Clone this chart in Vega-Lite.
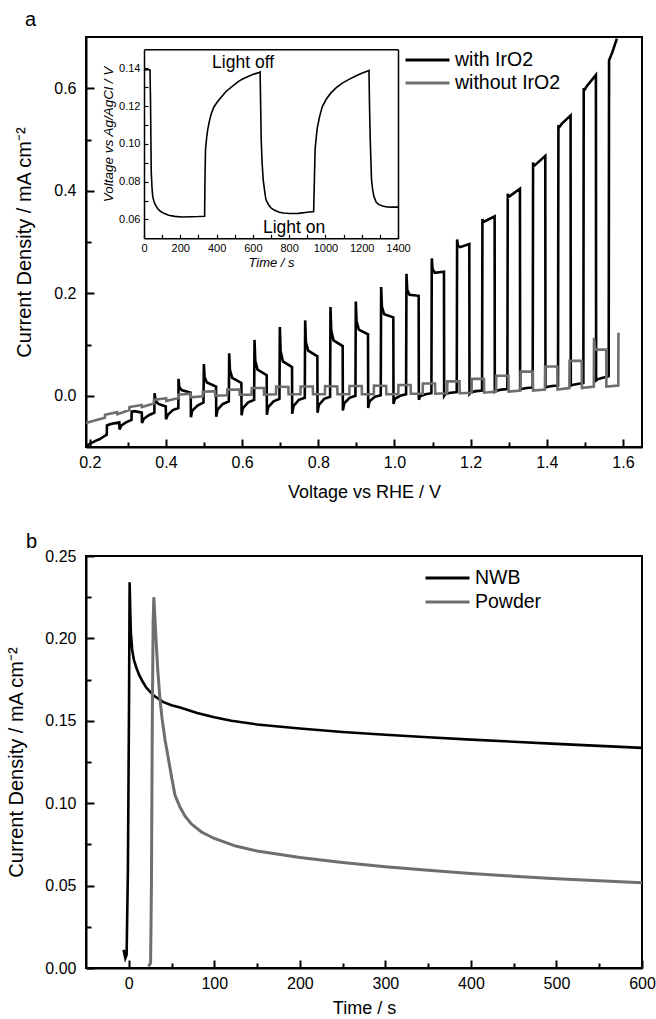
{
 "$schema": "https://vega.github.io/schema/vega-lite/v6.json",
 "background": "white",
 "padding": {"left": 5, "top": 9, "right": 10, "bottom": 2},
 "bounds": "flush",
 "spacing": 109,
 "config": {
  "font": "Liberation Sans",
  "view": {"stroke": "#000", "strokeWidth": 2},
  "axis": {"grid": false, "domainColor": "#000", "domainWidth": 2, "tickColor": "#000", "tickWidth": 2, "labelColor": "#000", "titleColor": "#000", "labelFont": "Liberation Sans", "titleFont": "Liberation Sans", "titleFontWeight": "normal", "labelFlush": false, "labelOverlap": false},
  "legend": {"labelFont": "Liberation Sans", "labelColor": "#000"},
  "title": {"font": "Liberation Sans", "color": "#000", "fontWeight": "normal"}
 },
 "resolve": {"scale": {"color": "independent"}},
 "datasets": {
  "black": [
   {"v":0.190,"j":-0.098,"s":"with IrO2"},{"v":0.205,"j":-0.092,"s":"with IrO2"},{"v":0.215,"j":-0.088,"s":"with IrO2"},{"v":0.225,"j":-0.085,"s":"with IrO2"},{"v":0.236,"j":-0.080,"s":"with IrO2"},{"v":0.2445,"j":-0.076,"s":"with IrO2"},
   {"v":0.245,"j":-0.058,"s":"with IrO2"},{"v":0.255,"j":-0.055,"s":"with IrO2"},{"v":0.2775,"j":-0.052,"s":"with IrO2"},
   {"v":0.278,"j":-0.066,"s":"with IrO2"},{"v":0.283,"j":-0.058,"s":"with IrO2"},{"v":0.295,"j":-0.052,"s":"with IrO2"},{"v":0.3095,"j":-0.047,"s":"with IrO2"},
   {"v":0.310,"j":-0.031,"s":"with IrO2"},{"v":0.318,"j":-0.030,"s":"with IrO2"},{"v":0.3365,"j":-0.033,"s":"with IrO2"},
   {"v":0.337,"j":-0.053,"s":"with IrO2"},{"v":0.342,"j":-0.045,"s":"with IrO2"},{"v":0.355,"j":-0.038,"s":"with IrO2"},{"v":0.3695,"j":-0.033,"s":"with IrO2"},
   {"v":0.370,"j":0.005,"s":"with IrO2"},{"v":0.373,"j":-0.010,"s":"with IrO2"},{"v":0.380,"j":-0.016,"s":"with IrO2"},{"v":0.3995,"j":-0.021,"s":"with IrO2"},
   {"v":0.400,"j":-0.046,"s":"with IrO2"},{"v":0.405,"j":-0.037,"s":"with IrO2"},{"v":0.418,"j":-0.028,"s":"with IrO2"},{"v":0.4325,"j":-0.024,"s":"with IrO2"},
   {"v":0.433,"j":0.033,"s":"with IrO2"},{"v":0.435,"j":0.017,"s":"with IrO2"},{"v":0.441,"j":0.011,"s":"with IrO2"},{"v":0.465,"j":0.006,"s":"with IrO2"},{"v":0.4655,"j":-0.042,"s":"with IrO2"},{"v":0.469,"j":-0.029,"s":"with IrO2"},{"v":0.483,"j":-0.019,"s":"with IrO2"},{"v":0.4985,"j":-0.013,"s":"with IrO2"},
   {"v":0.4995,"j":0.062,"s":"with IrO2"},{"v":0.5015,"j":0.036,"s":"with IrO2"},{"v":0.5075,"j":0.026,"s":"with IrO2"},{"v":0.5315,"j":0.018,"s":"with IrO2"},{"v":0.532,"j":-0.041,"s":"with IrO2"},{"v":0.5355,"j":-0.027,"s":"with IrO2"},{"v":0.5495,"j":-0.016,"s":"with IrO2"},{"v":0.565,"j":-0.011,"s":"with IrO2"},
   {"v":0.566,"j":0.083,"s":"with IrO2"},{"v":0.568,"j":0.050,"s":"with IrO2"},{"v":0.574,"j":0.035,"s":"with IrO2"},{"v":0.598,"j":0.025,"s":"with IrO2"},{"v":0.5985,"j":-0.038,"s":"with IrO2"},{"v":0.602,"j":-0.024,"s":"with IrO2"},{"v":0.616,"j":-0.013,"s":"with IrO2"},{"v":0.6315,"j":-0.008,"s":"with IrO2"},
   {"v":0.6325,"j":0.109,"s":"with IrO2"},{"v":0.6345,"j":0.068,"s":"with IrO2"},{"v":0.6405,"j":0.051,"s":"with IrO2"},{"v":0.6645,"j":0.040,"s":"with IrO2"},{"v":0.665,"j":-0.037,"s":"with IrO2"},{"v":0.6685,"j":-0.022,"s":"with IrO2"},{"v":0.6825,"j":-0.011,"s":"with IrO2"},{"v":0.698,"j":-0.006,"s":"with IrO2"},
   {"v":0.699,"j":0.134,"s":"with IrO2"},{"v":0.701,"j":0.088,"s":"with IrO2"},{"v":0.707,"j":0.067,"s":"with IrO2"},{"v":0.731,"j":0.056,"s":"with IrO2"},{"v":0.7315,"j":-0.035,"s":"with IrO2"},{"v":0.735,"j":-0.020,"s":"with IrO2"},{"v":0.749,"j":-0.008,"s":"with IrO2"},{"v":0.7645,"j":-0.004,"s":"with IrO2"},
   {"v":0.7655,"j":0.147,"s":"with IrO2"},{"v":0.7675,"j":0.104,"s":"with IrO2"},{"v":0.7735,"j":0.088,"s":"with IrO2"},{"v":0.7975,"j":0.077,"s":"with IrO2"},{"v":0.798,"j":-0.033,"s":"with IrO2"},{"v":0.8015,"j":-0.018,"s":"with IrO2"},{"v":0.8155,"j":-0.006,"s":"with IrO2"},{"v":0.831,"j":-0.002,"s":"with IrO2"},
   {"v":0.832,"j":0.173,"s":"with IrO2"},{"v":0.834,"j":0.127,"s":"with IrO2"},{"v":0.840,"j":0.108,"s":"with IrO2"},{"v":0.864,"j":0.097,"s":"with IrO2"},{"v":0.8645,"j":-0.029,"s":"with IrO2"},{"v":0.868,"j":-0.015,"s":"with IrO2"},{"v":0.882,"j":-0.004,"s":"with IrO2"},{"v":0.8975,"j":0.000,"s":"with IrO2"},
   {"v":0.8985,"j":0.184,"s":"with IrO2"},{"v":0.9005,"j":0.145,"s":"with IrO2"},{"v":0.9065,"j":0.129,"s":"with IrO2"},{"v":0.9305,"j":0.120,"s":"with IrO2"},{"v":0.931,"j":-0.024,"s":"with IrO2"},{"v":0.9345,"j":-0.011,"s":"with IrO2"},{"v":0.9485,"j":-0.002,"s":"with IrO2"},{"v":0.964,"j":0.001,"s":"with IrO2"},
   {"v":0.965,"j":0.212,"s":"with IrO2"},{"v":0.967,"j":0.174,"s":"with IrO2"},{"v":0.973,"j":0.159,"s":"with IrO2"},{"v":0.997,"j":0.153,"s":"with IrO2"},{"v":0.9975,"j":-0.016,"s":"with IrO2"},{"v":1.001,"j":-0.006,"s":"with IrO2"},{"v":1.015,"j":0.000,"s":"with IrO2"},{"v":1.0305,"j":0.003,"s":"with IrO2"},
   {"v":1.0315,"j":0.238,"s":"with IrO2"},{"v":1.0335,"j":0.207,"s":"with IrO2"},{"v":1.0395,"j":0.197,"s":"with IrO2"},{"v":1.0635,"j":0.195,"s":"with IrO2"},{"v":1.064,"j":-0.008,"s":"with IrO2"},{"v":1.0675,"j":-0.001,"s":"with IrO2"},{"v":1.0815,"j":0.003,"s":"with IrO2"},{"v":1.097,"j":0.005,"s":"with IrO2"},
   {"v":1.098,"j":0.268,"s":"with IrO2"},{"v":1.100,"j":0.247,"s":"with IrO2"},{"v":1.106,"j":0.240,"s":"with IrO2"},{"v":1.130,"j":0.242,"s":"with IrO2"},{"v":1.1305,"j":0.000,"s":"with IrO2"},{"v":1.134,"j":0.004,"s":"with IrO2"},{"v":1.148,"j":0.006,"s":"with IrO2"},{"v":1.1635,"j":0.007,"s":"with IrO2"},
   {"v":1.1645,"j":0.305,"s":"with IrO2"},{"v":1.1665,"j":0.293,"s":"with IrO2"},{"v":1.1725,"j":0.290,"s":"with IrO2"},{"v":1.1965,"j":0.296,"s":"with IrO2"},{"v":1.197,"j":0.004,"s":"with IrO2"},{"v":1.2005,"j":0.007,"s":"with IrO2"},{"v":1.2145,"j":0.009,"s":"with IrO2"},{"v":1.230,"j":0.010,"s":"with IrO2"},
   {"v":1.231,"j":0.345,"s":"with IrO2"},{"v":1.233,"j":0.339,"s":"with IrO2"},{"v":1.239,"j":0.341,"s":"with IrO2"},{"v":1.263,"j":0.350,"s":"with IrO2"},{"v":1.2635,"j":0.008,"s":"with IrO2"},{"v":1.267,"j":0.010,"s":"with IrO2"},{"v":1.281,"j":0.012,"s":"with IrO2"},{"v":1.2965,"j":0.013,"s":"with IrO2"},
   {"v":1.2975,"j":0.394,"s":"with IrO2"},{"v":1.2995,"j":0.388,"s":"with IrO2"},{"v":1.3055,"j":0.391,"s":"with IrO2"},{"v":1.3295,"j":0.404,"s":"with IrO2"},{"v":1.330,"j":0.012,"s":"with IrO2"},{"v":1.3335,"j":0.013,"s":"with IrO2"},{"v":1.3475,"j":0.015,"s":"with IrO2"},{"v":1.363,"j":0.016,"s":"with IrO2"},
   {"v":1.364,"j":0.455,"s":"with IrO2"},{"v":1.366,"j":0.448,"s":"with IrO2"},{"v":1.372,"j":0.452,"s":"with IrO2"},{"v":1.396,"j":0.468,"s":"with IrO2"},{"v":1.3965,"j":0.016,"s":"with IrO2"},{"v":1.400,"j":0.017,"s":"with IrO2"},{"v":1.414,"j":0.019,"s":"with IrO2"},{"v":1.4295,"j":0.020,"s":"with IrO2"},
   {"v":1.4305,"j":0.528,"s":"with IrO2"},{"v":1.4325,"j":0.524,"s":"with IrO2"},{"v":1.4385,"j":0.530,"s":"with IrO2"},{"v":1.4625,"j":0.547,"s":"with IrO2"},{"v":1.463,"j":0.020,"s":"with IrO2"},{"v":1.4665,"j":0.021,"s":"with IrO2"},{"v":1.4805,"j":0.023,"s":"with IrO2"},{"v":1.496,"j":0.025,"s":"with IrO2"},
   {"v":1.497,"j":0.600,"s":"with IrO2"},{"v":1.499,"j":0.597,"s":"with IrO2"},{"v":1.505,"j":0.604,"s":"with IrO2"},{"v":1.529,"j":0.626,"s":"with IrO2"},{"v":1.5295,"j":0.030,"s":"with IrO2"},{"v":1.533,"j":0.032,"s":"with IrO2"},{"v":1.547,"j":0.035,"s":"with IrO2"},{"v":1.5625,"j":0.038,"s":"with IrO2"},
   {"v":1.5635,"j":0.655,"s":"with IrO2"},{"v":1.5655,"j":0.658,"s":"with IrO2"},{"v":1.572,"j":0.670,"s":"with IrO2"},{"v":1.584,"j":0.697,"s":"with IrO2"}
  ],
  "gray": [
   {"v":0.190,"j":-0.053,"s":"without IrO2"},{"v":0.215,"j":-0.048,"s":"without IrO2"},{"v":0.2395,"j":-0.043,"s":"without IrO2"},
   {"v":0.240,"j":-0.037,"s":"without IrO2"},{"v":0.272,"j":-0.032,"s":"without IrO2"},{"v":0.2725,"j":-0.036,"s":"without IrO2"},{"v":0.3037,"j":-0.028,"s":"without IrO2"},
   {"v":0.3042,"j":-0.022,"s":"without IrO2"},{"v":0.3362,"j":-0.018,"s":"without IrO2"},{"v":0.3367,"j":-0.022,"s":"without IrO2"},{"v":0.3679,"j":-0.015,"s":"without IrO2"},
   {"v":0.3684,"j":-0.008,"s":"without IrO2"},{"v":0.4004,"j":-0.005,"s":"without IrO2"},{"v":0.4009,"j":-0.010,"s":"without IrO2"},{"v":0.4321,"j":-0.005,"s":"without IrO2"},
   {"v":0.4326,"j":0.002,"s":"without IrO2"},{"v":0.4646,"j":0.004,"s":"without IrO2"},{"v":0.4651,"j":-0.003,"s":"without IrO2"},{"v":0.4963,"j":-0.001,"s":"without IrO2"},
   {"v":0.4968,"j":0.008,"s":"without IrO2"},{"v":0.5288,"j":0.009,"s":"without IrO2"},{"v":0.5293,"j":0.000,"s":"without IrO2"},{"v":0.5605,"j":0.001,"s":"without IrO2"},
   {"v":0.5610,"j":0.012,"s":"without IrO2"},{"v":0.5930,"j":0.012,"s":"without IrO2"},{"v":0.5935,"j":0.002,"s":"without IrO2"},{"v":0.6247,"j":0.002,"s":"without IrO2"},
   {"v":0.6252,"j":0.015,"s":"without IrO2"},{"v":0.6572,"j":0.015,"s":"without IrO2"},{"v":0.6577,"j":0.002,"s":"without IrO2"},{"v":0.6889,"j":0.003,"s":"without IrO2"},
   {"v":0.6894,"j":0.018,"s":"without IrO2"},{"v":0.7214,"j":0.017,"s":"without IrO2"},{"v":0.7219,"j":0.003,"s":"without IrO2"},{"v":0.7531,"j":0.003,"s":"without IrO2"},
   {"v":0.7536,"j":0.018,"s":"without IrO2"},{"v":0.7856,"j":0.018,"s":"without IrO2"},{"v":0.7861,"j":0.003,"s":"without IrO2"},{"v":0.8173,"j":0.003,"s":"without IrO2"},
   {"v":0.8178,"j":0.019,"s":"without IrO2"},{"v":0.8498,"j":0.018,"s":"without IrO2"},{"v":0.8503,"j":0.003,"s":"without IrO2"},{"v":0.8815,"j":0.003,"s":"without IrO2"},
   {"v":0.8820,"j":0.019,"s":"without IrO2"},{"v":0.9140,"j":0.019,"s":"without IrO2"},{"v":0.9145,"j":0.003,"s":"without IrO2"},{"v":0.9457,"j":0.003,"s":"without IrO2"},
   {"v":0.9462,"j":0.020,"s":"without IrO2"},{"v":0.9782,"j":0.019,"s":"without IrO2"},{"v":0.9787,"j":0.003,"s":"without IrO2"},{"v":1.0099,"j":0.003,"s":"without IrO2"},
   {"v":1.0104,"j":0.021,"s":"without IrO2"},{"v":1.0424,"j":0.021,"s":"without IrO2"},{"v":1.0429,"j":0.004,"s":"without IrO2"},{"v":1.0741,"j":0.004,"s":"without IrO2"},
   {"v":1.0746,"j":0.024,"s":"without IrO2"},{"v":1.1066,"j":0.024,"s":"without IrO2"},{"v":1.1071,"j":0.004,"s":"without IrO2"},{"v":1.1383,"j":0.005,"s":"without IrO2"},
   {"v":1.1388,"j":0.028,"s":"without IrO2"},{"v":1.1708,"j":0.028,"s":"without IrO2"},{"v":1.1713,"j":0.005,"s":"without IrO2"},{"v":1.2025,"j":0.006,"s":"without IrO2"},
   {"v":1.2030,"j":0.033,"s":"without IrO2"},{"v":1.2350,"j":0.033,"s":"without IrO2"},{"v":1.2355,"j":0.006,"s":"without IrO2"},{"v":1.2667,"j":0.008,"s":"without IrO2"},
   {"v":1.2672,"j":0.039,"s":"without IrO2"},{"v":1.2992,"j":0.039,"s":"without IrO2"},{"v":1.2997,"j":0.008,"s":"without IrO2"},{"v":1.3309,"j":0.010,"s":"without IrO2"},
   {"v":1.3314,"j":0.047,"s":"without IrO2"},{"v":1.3634,"j":0.047,"s":"without IrO2"},{"v":1.3639,"j":0.010,"s":"without IrO2"},{"v":1.3951,"j":0.012,"s":"without IrO2"},
   {"v":1.3956,"j":0.057,"s":"without IrO2"},{"v":1.4276,"j":0.057,"s":"without IrO2"},{"v":1.4281,"j":0.012,"s":"without IrO2"},{"v":1.4593,"j":0.015,"s":"without IrO2"},
   {"v":1.4598,"j":0.068,"s":"without IrO2"},{"v":1.4918,"j":0.068,"s":"without IrO2"},{"v":1.4923,"j":0.015,"s":"without IrO2"},{"v":1.5235,"j":0.018,"s":"without IrO2"},
   {"v":1.5240,"j":0.113,"s":"without IrO2"},{"v":1.5270,"j":0.090,"s":"without IrO2"},{"v":1.5560,"j":0.090,"s":"without IrO2"},{"v":1.5565,"j":0.018,"s":"without IrO2"},{"v":1.5877,"j":0.020,"s":"without IrO2"},
   {"v":1.5882,"j":0.123,"s":"without IrO2"}
  ],
  "inset": [
   {"t":0,"v":0.1385},{"t":10,"v":0.1392},{"t":20,"v":0.1393},{"t":33,"v":0.1391},{"t":36,"v":0.122},{"t":38,"v":0.102},{"t":40,"v":0.085},{"t":44,"v":0.077},{"t":48,"v":0.0722},{"t":55,"v":0.0695},{"t":62,"v":0.0678},{"t":75,"v":0.0658},{"t":90,"v":0.0643},{"t":110,"v":0.0632},{"t":136,"v":0.0622},{"t":170,"v":0.0616},{"t":209,"v":0.0613},{"t":260,"v":0.0614},{"t":300,"v":0.0615},{"t":334,"v":0.0617},
   {"t":336,"v":0.080},{"t":339,"v":0.0969},{"t":345,"v":0.1030},{"t":351,"v":0.1074},{"t":360,"v":0.1118},{"t":369,"v":0.1154},{"t":385,"v":0.1195},{"t":406,"v":0.1224},{"t":430,"v":0.1252},{"t":452,"v":0.1277},{"t":490,"v":0.1307},{"t":525,"v":0.1333},{"t":555,"v":0.1348},{"t":580,"v":0.1359},{"t":610,"v":0.1370},{"t":635,"v":0.1377},{"t":640,"v":0.1380},
   {"t":643,"v":0.120},{"t":646,"v":0.1022},{"t":651,"v":0.090},{"t":657,"v":0.081},{"t":665,"v":0.075},{"t":672,"v":0.0705},{"t":685,"v":0.068},{"t":700,"v":0.0661},{"t":720,"v":0.0648},{"t":746,"v":0.0638},{"t":770,"v":0.0634},{"t":801,"v":0.0631},{"t":850,"v":0.0632},{"t":900,"v":0.0638},{"t":935,"v":0.0642},
   {"t":939,"v":0.080},{"t":943,"v":0.0969},{"t":949,"v":0.1030},{"t":955,"v":0.1083},{"t":968,"v":0.1145},{"t":983,"v":0.1197},{"t":1005,"v":0.1237},{"t":1029,"v":0.1268},{"t":1060,"v":0.1297},{"t":1093,"v":0.1321},{"t":1130,"v":0.1341},{"t":1167,"v":0.1359},{"t":1200,"v":0.1373},{"t":1237,"v":0.1386},{"t":1240,"v":0.1388},
   {"t":1243,"v":0.120},{"t":1247,"v":0.1022},{"t":1254,"v":0.081},{"t":1260,"v":0.076},{"t":1267,"v":0.0722},{"t":1280,"v":0.069},{"t":1295,"v":0.0678},{"t":1320,"v":0.067},{"t":1341,"v":0.0666},{"t":1370,"v":0.0665},{"t":1400,"v":0.0665}
  ],
  "notes": [
   {"t":546,"v":0.1402,"label":"Light off"},
   {"t":827,"v":0.0526,"label":"Light on"}
  ],
  "nwb": [
   {"t":-6,"j":0.011,"s":"NWB"},{"t":-4,"j":0.006,"s":"NWB"},{"t":-2.5,"j":0.008,"s":"NWB"},{"t":-1,"j":0.06,"s":"NWB"},{"t":0.3,"j":0.16,"s":"NWB"},{"t":1,"j":0.234,"s":"NWB"},{"t":1.8,"j":0.215,"s":"NWB"},{"t":2.5,"j":0.203,"s":"NWB"},{"t":4,"j":0.193,"s":"NWB"},{"t":6,"j":0.187,"s":"NWB"},{"t":9,"j":0.182,"s":"NWB"},{"t":12,"j":0.178,"s":"NWB"},{"t":16,"j":0.174,"s":"NWB"},{"t":20,"j":0.1705,"s":"NWB"},{"t":25,"j":0.1675,"s":"NWB"},{"t":30,"j":0.165,"s":"NWB"},{"t":40,"j":0.1615,"s":"NWB"},{"t":50,"j":0.1595,"s":"NWB"},{"t":60,"j":0.158,"s":"NWB"},{"t":80,"j":0.1548,"s":"NWB"},{"t":100,"j":0.1522,"s":"NWB"},{"t":120,"j":0.150,"s":"NWB"},{"t":150,"j":0.1478,"s":"NWB"},{"t":200,"j":0.1453,"s":"NWB"},{"t":250,"j":0.1432,"s":"NWB"},{"t":300,"j":0.1415,"s":"NWB"},{"t":350,"j":0.140,"s":"NWB"},{"t":400,"j":0.1386,"s":"NWB"},{"t":450,"j":0.1373,"s":"NWB"},{"t":500,"j":0.136,"s":"NWB"},{"t":550,"j":0.1348,"s":"NWB"},{"t":600,"j":0.1336,"s":"NWB"}
  ],
  "powder": [
   {"t":23,"j":0.001,"s":"Powder"},{"t":25.5,"j":0.003,"s":"Powder"},{"t":26.5,"j":0.05,"s":"Powder"},{"t":27.5,"j":0.15,"s":"Powder"},{"t":28.5,"j":0.21,"s":"Powder"},{"t":29.3,"j":0.225,"s":"Powder"},{"t":30.3,"j":0.215,"s":"Powder"},{"t":31.8,"j":0.2,"s":"Powder"},{"t":34,"j":0.18,"s":"Powder"},{"t":36.5,"j":0.163,"s":"Powder"},{"t":39,"j":0.151,"s":"Powder"},{"t":42.5,"j":0.138,"s":"Powder"},{"t":46,"j":0.128,"s":"Powder"},{"t":50,"j":0.116,"s":"Powder"},{"t":54,"j":0.105,"s":"Powder"},{"t":60,"j":0.0975,"s":"Powder"},{"t":66,"j":0.092,"s":"Powder"},{"t":73,"j":0.0875,"s":"Powder"},{"t":85,"j":0.0825,"s":"Powder"},{"t":100,"j":0.0786,"s":"Powder"},{"t":125,"j":0.074,"s":"Powder"},{"t":150,"j":0.071,"s":"Powder"},{"t":200,"j":0.0671,"s":"Powder"},{"t":250,"j":0.064,"s":"Powder"},{"t":300,"j":0.0614,"s":"Powder"},{"t":350,"j":0.0593,"s":"Powder"},{"t":400,"j":0.0574,"s":"Powder"},{"t":450,"j":0.0557,"s":"Powder"},{"t":500,"j":0.0542,"s":"Powder"},{"t":550,"j":0.053,"s":"Powder"},{"t":600,"j":0.0518,"s":"Powder"}
  ]
 },
 "vconcat": [
  {
   "width": 556, "height": 410,
   "title": {"text": "a", "anchor": "start", "frame": "group", "dx": -61, "offset": -13, "fontSize": 20, "baseline": "alphabetic"},
   "layer": [
    {
     "layer": [
      {
       "data": {"name": "black"},
       "mark": {"type": "line", "strokeWidth": 2.6},
       "encoding": {
        "x": {"field": "v", "type": "quantitative", "scale": {"domain": [0.19, 1.65], "nice": false, "zero": false},
              "axis": {"orient": "bottom", "values": [0.2,0.4,0.6,0.8,1.0,1.2,1.4,1.6], "format": ".1f", "ticks": false, "labelPadding": 7, "labelFontSize": 16, "title": "Voltage vs RHE / V", "titleFontSize": 18, "titleY": 50, "titleBaseline": "alphabetic"}},
        "y": {"field": "j", "type": "quantitative", "scale": {"domain": [-0.1, 0.7], "nice": false, "zero": false},
              "axis": {"orient": "left", "values": [0,0.2,0.4,0.6], "format": ".1f", "ticks": false, "labelPadding": 10, "labelFontSize": 16, "title": "Current Density / mA cm⁻²", "titleFontSize": 20, "titleX": -56, "titleBaseline": "alphabetic"}},
        "color": {"field": "s", "type": "nominal", "scale": {"domain": ["with IrO2", "without IrO2"], "range": ["#000000", "#6e6e6e"]},
                  "legend": {"title": null, "orient": "none", "legendX": 318, "legendY": 12, "symbolType": "stroke", "symbolSize": 1936, "symbolStrokeWidth": 3, "clipHeight": 22, "labelFontSize": 19.5, "labelOffset": 4, "rowPadding": 1, "padding": 0}}
       }
      },
      {
       "data": {"name": "gray"},
       "mark": {"type": "line", "strokeWidth": 2.6},
       "encoding": {
        "x": {"field": "v", "type": "quantitative", "axis": {"orient": "bottom", "offset": -8, "values": [0.2,0.4,0.6,0.8,1.0,1.2,1.4,1.6], "labels": false, "domain": false, "ticks": true, "tickSize": 8, "title": null}},
        "y": {"field": "j", "type": "quantitative", "axis": {"orient": "left", "offset": -8, "values": [0,0.2,0.4,0.6], "labels": false, "domain": false, "ticks": true, "tickSize": 8, "title": null}},
        "color": {"field": "s", "type": "nominal"}
       }
      },
      {
       "data": {"name": "gray"},
       "mark": {"type": "line", "opacity": 0},
       "encoding": {
        "x": {"field": "v", "type": "quantitative", "axis": {"orient": "bottom", "offset": -5, "values": [0.3,0.5,0.7,0.9,1.1,1.3,1.5], "labels": false, "domain": false, "ticks": true, "tickSize": 5, "title": null}},
        "y": {"field": "j", "type": "quantitative", "axis": {"orient": "left", "offset": -5, "values": [0.1,0.3,0.5], "labels": false, "domain": false, "ticks": true, "tickSize": 5, "title": null}}
       }
      }
     ],
     "resolve": {"axis": {"x": "independent", "y": "independent"}}
    },
    {
     "layer": [
      {
       "data": {"name": "inset"},
       "mark": {"type": "line", "strokeWidth": 1.6, "color": "#000"},
       "encoding": {
        "x": {"field": "t", "type": "quantitative", "scale": {"domain": [0, 1400], "nice": false, "zero": false, "range": [58, 312]},
              "axis": {"orient": "bottom", "offset": -208.7, "values": [0,200,400,600,800,1000,1200,1400], "format": "d", "ticks": false, "domainWidth": 1.5, "labelFontSize": 11, "labelPadding": 4, "title": "Time / s", "titleFontStyle": "italic", "titleFontSize": 13, "titleY": 28, "titleBaseline": "alphabetic"}},
        "y": {"field": "v", "type": "quantitative", "scale": {"domain": [0.05, 0.15], "nice": false, "zero": false, "range": [201.3, 12.3]},
              "axis": {"orient": "left", "offset": -58, "values": [0.06,0.08,0.10,0.12,0.14], "format": ".2f", "ticks": false, "domainWidth": 1.5, "labelFontSize": 11, "labelPadding": 4, "title": "Voltage vs Ag/AgCl / V", "titleFontStyle": "italic", "titleFontSize": 13.5, "titleX": -32, "titleY": 97, "titleBaseline": "alphabetic"}}
       }
      },
      {
       "data": {"name": "notes"},
       "mark": {"type": "text", "fontSize": 17.5, "align": "center", "baseline": "alphabetic", "font": "Liberation Sans", "color": "#000"},
       "encoding": {
        "x": {"field": "t", "type": "quantitative", "axis": {"orient": "top", "offset": -12.3, "ticks": false, "labels": false, "title": null, "domainWidth": 1.5}},
        "y": {"field": "v", "type": "quantitative", "axis": {"orient": "right", "offset": -244, "ticks": false, "labels": false, "title": null, "domainWidth": 1.5}},
        "text": {"field": "label"}
       }
      },
      {
       "data": {"name": "inset"},
       "mark": {"type": "line", "opacity": 0},
       "encoding": {
        "x": {"field": "t", "type": "quantitative", "axis": {"orient": "bottom", "offset": -212.7, "values": [0,100,200,300,400,500,600,700,800,900,1000,1100,1200,1300,1400], "labels": false, "domain": false, "ticks": true, "tickSize": 4, "tickWidth": 1.2, "title": null}},
        "y": {"field": "v", "type": "quantitative", "axis": {"orient": "left", "offset": -62, "values": [0.06,0.07,0.08,0.09,0.10,0.11,0.12,0.13,0.14], "labels": false, "domain": false, "ticks": true, "tickSize": 4, "tickWidth": 1.2, "title": null}}
       }
      }
     ],
     "resolve": {"axis": {"x": "independent", "y": "independent"}}
    }
   ],
   "resolve": {"scale": {"x": "independent", "y": "independent"}}
  },
  {
   "width": 556, "height": 412,
   "title": {"text": "b", "anchor": "start", "frame": "group", "dx": -60, "offset": -20, "fontSize": 20, "baseline": "alphabetic"},
   "layer": [
    {
     "data": {"name": "nwb"},
     "mark": {"type": "line", "strokeWidth": 2.6},
     "encoding": {
      "x": {"field": "t", "type": "quantitative", "scale": {"domain": [-50, 600], "nice": false, "zero": false},
            "axis": {"orient": "bottom", "values": [0,100,200,300,400,500,600], "ticks": false, "labelPadding": 7, "labelFontSize": 16, "title": "Time / s", "titleFontSize": 18, "titleY": 45, "titleBaseline": "alphabetic"}},
      "y": {"field": "j", "type": "quantitative", "scale": {"domain": [0, 0.25], "nice": false, "zero": false},
            "axis": {"orient": "left", "values": [0,0.05,0.1,0.15,0.2,0.25], "format": ".2f", "ticks": false, "labelPadding": 10, "labelFontSize": 16, "title": "Current Density / mA cm⁻²", "titleFontSize": 20, "titleX": -64, "titleBaseline": "alphabetic"}},
      "color": {"field": "s", "type": "nominal", "scale": {"domain": ["NWB", "Powder"], "range": ["#000000", "#6e6e6e"]},
                "legend": {"title": null, "orient": "none", "legendX": 338, "legendY": 11, "symbolType": "stroke", "symbolSize": 1936, "symbolStrokeWidth": 3, "clipHeight": 22, "labelFontSize": 19.5, "labelOffset": 4, "rowPadding": 2, "padding": 0}}
     }
    },
    {
     "data": {"name": "powder"},
     "mark": {"type": "line", "strokeWidth": 3},
     "encoding": {
      "x": {"field": "t", "type": "quantitative", "axis": {"orient": "bottom", "offset": -8, "values": [0,100,200,300,400,500,600], "labels": false, "domain": false, "ticks": true, "tickSize": 8, "title": null}},
      "y": {"field": "j", "type": "quantitative", "axis": {"orient": "left", "offset": -8, "values": [0,0.05,0.1,0.15,0.2,0.25], "labels": false, "domain": false, "ticks": true, "tickSize": 8, "title": null}},
      "color": {"field": "s", "type": "nominal"}
     }
    },
    {
     "data": {"name": "powder"},
     "mark": {"type": "line", "opacity": 0},
     "encoding": {
      "x": {"field": "t", "type": "quantitative", "axis": {"orient": "bottom", "offset": -5, "values": [50,150,250,350,450,550], "labels": false, "domain": false, "ticks": true, "tickSize": 5, "title": null}},
      "y": {"field": "j", "type": "quantitative", "axis": {"orient": "left", "offset": -5, "values": [0.025,0.075,0.125,0.175,0.225], "labels": false, "domain": false, "ticks": true, "tickSize": 5, "title": null}}
     }
    }
   ],
   "resolve": {"axis": {"x": "independent", "y": "independent"}}
  }
 ]
}
